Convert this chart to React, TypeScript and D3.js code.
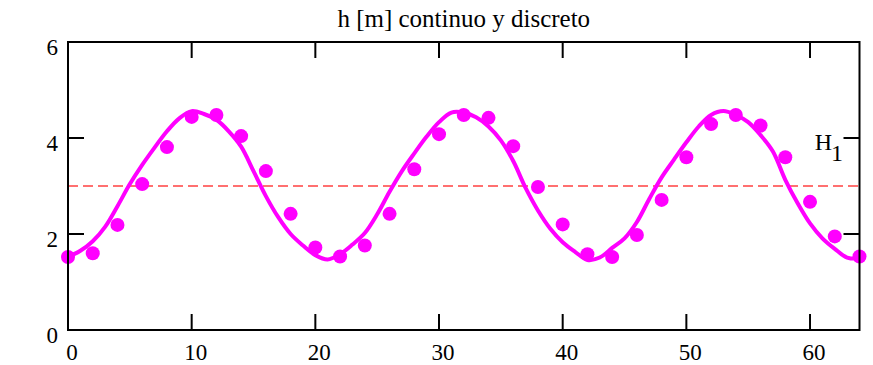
import React from "react";
import * as d3 from "d3";

const curveX: number[] = Array.from({ length: 65 }, (_, i) => i);
const curveH: number[] = [
  1.52, 1.65, 1.85, 2.15, 2.58, 3.04, 3.44, 3.8, 4.14, 4.41,
  4.56, 4.5, 4.38, 4.14, 3.82, 3.31, 2.79, 2.35, 2.0, 1.76,
  1.56, 1.47, 1.58, 1.78, 2.02, 2.41, 2.88, 3.31, 3.68, 4.03,
  4.33, 4.53, 4.53, 4.43, 4.24, 3.95, 3.52, 2.96, 2.49, 2.11,
  1.83, 1.63, 1.46, 1.51, 1.71, 1.91, 2.25, 2.73, 3.18, 3.55,
  3.91, 4.24, 4.48, 4.56, 4.48, 4.33, 4.06, 3.72, 3.13, 2.64,
  2.22, 1.91, 1.69, 1.51, 1.49,
];
const dotX: number[] = [
  0, 2, 4, 6, 8, 10, 12, 14, 16, 18, 20, 22, 24, 26, 28, 30, 32,
  34, 36, 38, 40, 42, 44, 46, 48, 50, 52, 54, 56, 58, 60, 62, 64,
];
const dotH: number[] = [
  1.52, 1.6, 2.19, 3.04, 3.81, 4.44, 4.48, 4.04, 3.31, 2.42, 1.72,
  1.53, 1.76, 2.42, 3.35, 4.08, 4.48, 4.42, 3.83, 2.98, 2.2, 1.58,
  1.52, 1.98, 2.71, 3.6, 4.29, 4.48, 4.26, 3.6, 2.67, 1.95, 1.53,
];
const xTicks: number[] = [0, 10, 20, 30, 40, 50, 60];
const yTicks: number[] = [0, 2, 4, 6];
const refLevel = 3;
const title = "h [m] continuo y discreto";
const refLabel = "H";
const refSub = "1";

const SERIF = "Liberation Serif";
const CSS =
  "svg.chart text { font-family: 'Liberation Serif', 'Times New Roman', Tinos, serif !important; }";

function Label(props: {
  x: number;
  y: number;
  size: number;
  anchor: "start" | "middle" | "end";
  children: React.ReactNode;
}) {
  return (
    <text
      x={props.x}
      y={props.y}
      textAnchor={props.anchor}
      fill="#000"
      fontFamily={SERIF}
      fontSize={props.size}
      style={{ fontFamily: SERIF }}
    >
      {props.children}
    </text>
  );
}

export default function App() {
  const W = 873;
  const H = 365;
  const left = 68;
  const right = 859.5;
  const top = 42;
  const bottom = 330;
  const x = d3.scaleLinear().domain([0, 64]).range([left, right]);
  const y = d3.scaleLinear().domain([0, 6]).range([bottom, top]);
  const line = d3
    .line<number>()
    .x((_, i) => x(curveX[i]))
    .y((d) => y(d))
    .curve(d3.curveCatmullRom.alpha(0.5));
  const tl = 16;
  return (
    <svg
      className="chart"
      width={W}
      height={H}
      style={{ position: "absolute", left: 0, top: 0, background: "#fff" }}
    >
      <style>{CSS}</style>
      <defs>
        <clipPath id="plot">
          <rect x={left} y={top} width={right - left} height={bottom - top} />
        </clipPath>
      </defs>
      <Label x={(left + right) / 2} y={27} size={25} anchor="middle">
        {title}
      </Label>
      <line
        x1={left}
        x2={right}
        y1={y(refLevel)}
        y2={y(refLevel)}
        stroke="#ff7070"
        strokeWidth={2}
        strokeDasharray="10,5"
      />
      <g clipPath="url(#plot)">
        <path d={line(curveH) || ""} fill="none" stroke="#ff00ff" strokeWidth={4} />
      </g>
      {dotX.map((d, i) => (
        <circle key={i} cx={x(d)} cy={y(dotH[i])} r={7} fill="#ff00ff" />
      ))}
      {xTicks.map((t) => (
        <g key={"x" + t}>
          <line x1={x(t)} x2={x(t)} y1={bottom} y2={bottom - tl} stroke="#000" strokeWidth={2} />
          <line x1={x(t)} x2={x(t)} y1={top} y2={top + tl} stroke="#000" strokeWidth={2} />
          <Label x={x(t) + 4} y={360} size={23} anchor="middle">
            {t}
          </Label>
        </g>
      ))}
      {yTicks.map((t) => (
        <g key={"y" + t}>
          <line x1={left} x2={left + tl} y1={y(t)} y2={y(t)} stroke="#000" strokeWidth={2} />
          <line x1={right} x2={right - tl} y1={y(t)} y2={y(t)} stroke="#000" strokeWidth={2} />
          <Label x={58} y={y(t) + 13} size={23} anchor="end">
            {t}
          </Label>
        </g>
      ))}
      <rect
        x={left}
        y={top}
        width={right - left}
        height={bottom - top}
        fill="none"
        stroke="#000"
        strokeWidth={2}
      />
      <Label x={832} y={150} size={24} anchor="end">
        {refLabel}
      </Label>
      <Label x={843} y={161} size={24} anchor="end">
        {refSub}
      </Label>
    </svg>
  );
}
